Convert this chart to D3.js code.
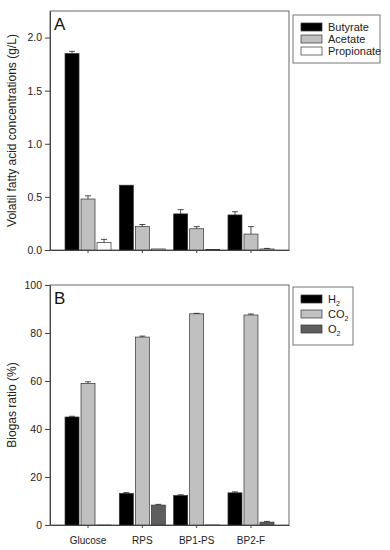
<!DOCTYPE html>
<html>
<head>
<meta charset="utf-8">
<script src="https://cdn.jsdelivr.net/npm/d3@7"></script>
<style>
  body { margin: 0; background: #fff; }
  svg { font-family: "Liberation Sans", Arial, sans-serif; }
</style>
</head>
<body>
<svg id="chart" width="390" height="550"></svg>
<script>
// categories
var groups = ["Glucose", "RPS", "BP1-PS", "BP2-F"]

// panel A: volatile fatty acids (g/L)
var vfaSeries = ["Butyrate", "Acetate", "Propionate"]
var butyrate = [1.85, 0.61, 0.34, 0.33]
var butyrateErr = [0.02, 0, 0.04, 0.03]
var acetate = [0.48, 0.22, 0.20, 0.15]
var acetateErr = [0.03, 0.02, 0.02, 0.07]
var propionate = [0.07, 0.01, 0.005, 0.01]
var propionateErr = [0.03, 0, 0, 0.005]
var vfaTicks = [0, 0.5, 1.0, 1.5, 2.0]

// panel B: biogas ratio (%)
var gasSeries = ["H2", "CO2", "O2"]
var h2 = [45, 13.2, 12.3, 13.4]
var h2Err = [0.3, 0.3, 0.3, 0.4]
var co2 = [59, 78.3, 88, 87.5]
var co2Err = [0.7, 0.4, 0.2, 0.4]
var o2 = [0, 8.3, 0, 1.2]
var o2Err = [0, 0.3, 0, 0.3]
var gasTicks = [0, 20, 40, 60, 80, 100]

var svg = d3.select("#chart")
var left = 50, right = 289

function panel(opts) {
  var g = svg.append("g")
  var x = d3.scaleBand().domain(groups).range([left, right])
    .paddingInner(0).paddingOuter(0.2)
  var xs = d3.scaleBand().domain(opts.series).range([0, x.bandwidth()])
    .paddingInner(0.125).paddingOuter(0.26)
  var y = d3.scaleLinear().domain([0, opts.max]).range([opts.bottom, opts.top])

  // frame
  g.append("rect")
    .attr("x", left).attr("y", opts.top)
    .attr("width", right - left).attr("height", opts.bottom - opts.top)
    .attr("fill", "none").attr("stroke", "#666").attr("stroke-width", 1)

  // bars
  opts.series.forEach(function (s, si) {
    var vals = opts.values[si], errs = opts.errors[si]
    groups.forEach(function (c, i) {
      var bx = x(c) + xs(s)
      g.append("rect")
        .attr("x", bx).attr("y", y(vals[i]))
        .attr("width", xs.bandwidth())
        .attr("height", Math.max(0.6, y(0) - y(vals[i])))
        .attr("fill", opts.colors[si])
        .attr("stroke", "#333").attr("stroke-width", 0.7)
      if (errs[i] > 0) {
        var cx = bx + xs.bandwidth() / 2
        g.append("line")
          .attr("x1", cx).attr("x2", cx)
          .attr("y1", y(vals[i])).attr("y2", y(vals[i] + errs[i]))
          .attr("stroke", "#222").attr("stroke-width", 0.8)
        g.append("line")
          .attr("x1", cx - 3).attr("x2", cx + 3)
          .attr("y1", y(vals[i] + errs[i])).attr("y2", y(vals[i] + errs[i]))
          .attr("stroke", "#222").attr("stroke-width", 0.8)
      }
    })
  })

  // y axis
  var ya = g.append("g").attr("transform", "translate(" + left + ",0)")
    .call(d3.axisLeft(y).tickValues(opts.ticks).tickFormat(opts.fmt)
      .tickSize(5).tickSizeOuter(0))
  ya.select(".domain").attr("stroke", "#444")
  ya.selectAll(".tick line").attr("stroke", "#444")
  ya.selectAll("text").attr("font-size", 10.5).attr("fill", "#222")
    .attr("font-family", "Liberation Sans, Arial, sans-serif")

  // x axis
  var xa = g.append("g").attr("transform", "translate(0," + opts.bottom + ")")
    .call(d3.axisBottom(x).tickSize(3).tickSizeOuter(0)
      .tickFormat(opts.showX ? null : ""))
  xa.select(".domain").attr("stroke", "#444")
  xa.selectAll(".tick line").attr("stroke", "#444")
  xa.selectAll("text").attr("font-size", 10).attr("fill", "#222")
    .attr("dy", "1.25em")
    .attr("font-family", "Liberation Sans, Arial, sans-serif")

  // panel letter
  g.append("text").attr("x", left + 4).attr("y", opts.top + 19)
    .attr("font-size", 17).attr("fill", "#111").text(opts.letter)

  // y label
  g.append("text")
    .attr("transform", "translate(16," + ((opts.top + opts.bottom) / 2) + ") rotate(-90)")
    .attr("text-anchor", "middle").attr("font-size", 12).attr("fill", "#222")
    .text(opts.ylabel)

  // legend
  var lg = g.append("g")
  lg.append("rect")
    .attr("x", 293).attr("y", opts.legTop)
    .attr("width", opts.legW).attr("height", opts.legH)
    .attr("fill", "#fff").attr("stroke", "#777").attr("stroke-width", 1)
  opts.series.forEach(function (s, si) {
    var ry = opts.legTop + 8 + si * opts.legStep
    lg.append("rect")
      .attr("x", 301).attr("y", ry).attr("width", 21).attr("height", 8)
      .attr("fill", opts.colors[si]).attr("stroke", "#333").attr("stroke-width", 0.7)
    var t = lg.append("text").attr("x", 328).attr("y", ry + 7.5)
      .attr("font-size", 11).attr("fill", "#222")
    var m = s.match(/^([A-Za-z]+?)(\d)$/)
    if (opts.sub && m) {
      t.append("tspan").text(m[1])
      t.append("tspan").attr("font-size", 7).attr("dy", 3).text(m[2])
    } else {
      t.text(s)
    }
  })
}

panel({
  letter: "A", top: 11, bottom: 250, max: 2.25,
  series: vfaSeries,
  values: [butyrate, acetate, propionate],
  errors: [butyrateErr, acetateErr, propionateErr],
  colors: ["#000", "#c0c0c0", "#fff"],
  ticks: vfaTicks, fmt: d3.format(".1f"),
  ylabel: "Volatil fatty acid concentrations (g/L)",
  showX: false, sub: false,
  legTop: 15, legW: 87, legH: 48, legStep: 12
})

panel({
  letter: "B", top: 285, bottom: 525, max: 100,
  series: gasSeries,
  values: [h2, co2, o2],
  errors: [h2Err, co2Err, o2Err],
  colors: ["#000", "#c0c0c0", "#5e5e5e"],
  ticks: gasTicks, fmt: d3.format("d"),
  ylabel: "Biogas ratio (%)",
  showX: true, sub: true,
  legTop: 287, legW: 60, legH: 58, legStep: 15
})
</script>
</body>
</html>
